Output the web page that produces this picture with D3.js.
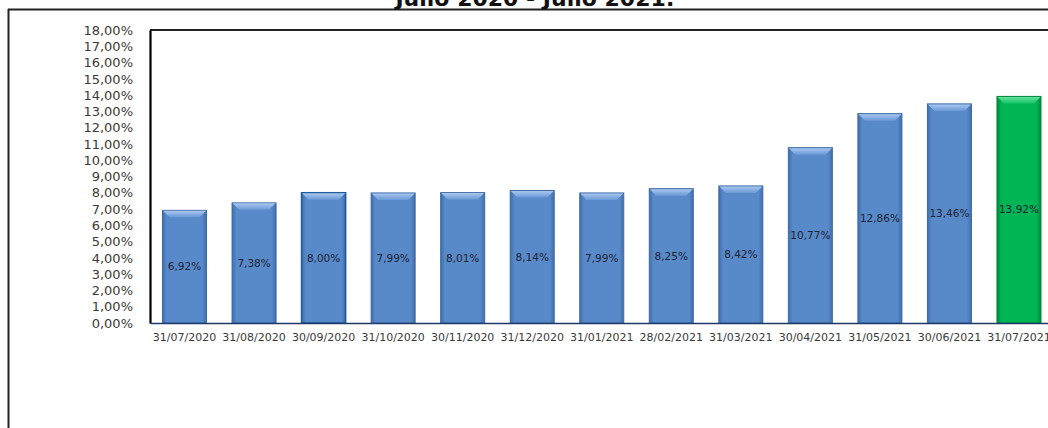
<!DOCTYPE html>
<html>
<head>
<meta charset="utf-8">
<script src="https://cdn.jsdelivr.net/npm/d3@7"></script>
<style>
  html, body { margin: 0; padding: 0; background: #fff; }
  svg { display: block; }
</style>
</head>
<body>
<svg id="chart" width="1048" height="428"></svg>
<script>
const titleText = "Julio 2020 - Julio 2021:";
const categories = ["31/07/2020","31/08/2020","30/09/2020","31/10/2020","30/11/2020","31/12/2020","31/01/2021","28/02/2021","31/03/2021","30/04/2021","31/05/2021","30/06/2021","31/07/2021"];
const values = [6.92, 7.38, 8.00, 7.99, 8.01, 8.14, 7.99, 8.25, 8.42, 10.77, 12.86, 13.46, 13.92];
const highlighted = ["31/07/2021"];
const yTicks = [0,1,2,3,4,5,6,7,8,9,10,11,12,13,14,15,16,17,18];

const svg = d3.select("#chart");
const W = 1048, H = 428;
const plot = { left: 150, top: 30, bottom: 323, right: 1053.5 };

const locale = d3.formatLocale({ decimal: ",", thousands: ".", grouping: [3], currency: ["", "€"] });
const fmt = v => locale.format(".2f")(v) + "%";

const x = d3.scaleBand().domain(categories).range([plot.left, plot.right]).paddingInner(0.367).paddingOuter(0.18);
const y = d3.scaleLinear().domain([0, 18]).range([plot.bottom, plot.top]);

// defs: gradients
const defs = svg.append("defs");
function makeGrads(id, edge, mid, topLight, topDark) {
  const h = defs.append("linearGradient").attr("id", id + "-body").attr("x1", "0").attr("x2", "1").attr("y1", "0").attr("y2", "0");
  h.append("stop").attr("offset", "0").attr("stop-color", edge);
  h.append("stop").attr("offset", "0.1").attr("stop-color", mid);
  h.append("stop").attr("offset", "0.9").attr("stop-color", mid);
  h.append("stop").attr("offset", "1").attr("stop-color", edge);
  const t = defs.append("linearGradient").attr("id", id + "-top").attr("x1", "0").attr("x2", "0").attr("y1", "0").attr("y2", "1");
  t.append("stop").attr("offset", "0").attr("stop-color", topLight);
  t.append("stop").attr("offset", "1").attr("stop-color", topDark);
}
makeGrads("blue", "#3f6ead", "#5889c9", "#a9c7ef", "#6a99d6");
makeGrads("green", "#00893c", "#00b553", "#5fe39b", "#17c466");

// outer border
svg.append("line").attr("x1", 8).attr("x2", W).attr("y1", 9.5).attr("y2", 9.5).attr("stroke", "#222").attr("stroke-width", 2);
svg.append("line").attr("x1", 8.5).attr("x2", 8.5).attr("y1", 9).attr("y2", H).attr("stroke", "#222").attr("stroke-width", 2);

// title (partly cut off at top, as in the reference)
svg.append("text")
  .attr("x", 535).attr("y", 6)
  .attr("text-anchor", "middle")
  .attr("font-family", "DejaVu Sans")
  .attr("font-weight", "bold")
  .attr("font-size", 22)
  .attr("fill", "#111")
  .text(titleText);

// plot area top line
svg.append("line").attr("x1", plot.left).attr("x2", W).attr("y1", plot.top).attr("y2", plot.top).attr("stroke", "#222").attr("stroke-width", 2);

// bars
const bw = x.bandwidth();
const bars = svg.append("g").selectAll("g.bar").data(categories.map((c, i) => ({ c, v: values[i] }))).join("g").attr("class", "bar");
bars.each(function(d) {
  const g = d3.select(this);
  const id = highlighted.includes(d.c) ? "green" : "blue";
  const x0 = x(d.c), y0 = y(d.v), h = y(0) - y(d.v);
  const stroke = id === "green" ? "#00863a" : (d.c === "30/09/2020" ? "#1f5a9c" : "#3d6aa3");
  g.append("rect").attr("x", x0).attr("y", y0).attr("width", bw).attr("height", h)
    .attr("fill", `url(#${id}-body)`).attr("stroke", stroke).attr("stroke-width", d.c === "30/09/2020" ? 1.6 : 1);
  const b = 7;
  g.append("polygon")
    .attr("points", [[x0 + 0.5, y0 + 0.5], [x0 + bw - 0.5, y0 + 0.5], [x0 + bw - b, y0 + b], [x0 + b, y0 + b]].map(p => p.join(",")).join(" "))
    .attr("fill", `url(#${id}-top)`);
  g.append("text")
    .attr("x", x0 + bw / 2).attr("y", y0 + h / 2)
    .attr("dy", "0.36em")
    .attr("text-anchor", "middle")
    .attr("font-family", "DejaVu Sans")
    .attr("font-size", 10.5)
    .attr("fill", "#1d2433")
    .text(fmt(d.v));
});

// y axis
const yAxis = svg.append("g").attr("transform", `translate(${plot.left},0)`)
  .call(d3.axisLeft(y).tickValues(yTicks).tickFormat(fmt).tickSize(0).tickPadding(17));
yAxis.select(".domain").attr("stroke", "#000").attr("stroke-width", 2.2);
yAxis.selectAll("text").attr("font-family", "DejaVu Sans").attr("font-size", 13).attr("fill", "#3a3a3a");

// x axis
const xAxis = svg.append("g").attr("transform", `translate(0,${plot.bottom})`)
  .call(d3.axisBottom(x).tickSize(0).tickPadding(10));
xAxis.select(".domain").attr("stroke", "#1f3a68").attr("stroke-width", 1.6);
xAxis.selectAll("text").attr("font-family", "DejaVu Sans").attr("font-size", 11).attr("fill", "#3a3a3a");
</script>
</body>
</html>
